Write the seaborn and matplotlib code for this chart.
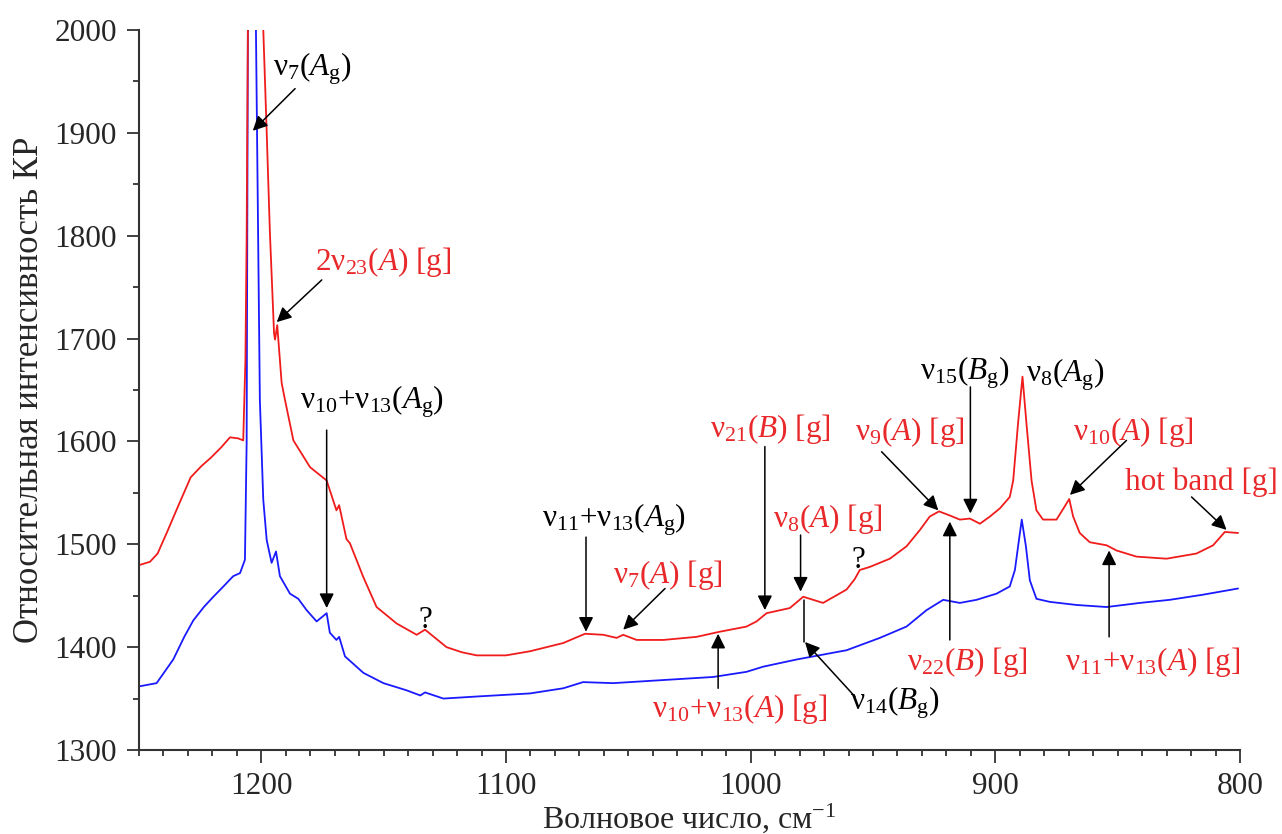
import matplotlib
matplotlib.use("Agg")
import matplotlib.pyplot as plt
import seaborn as sns
import pandas as pd
from matplotlib.ticker import MultipleLocator

# ---- data (wavenumber, cm^-1 ; intensity) ----
red_x = [1249.6, 1245.5, 1242.4, 1238.5, 1234.2, 1228.9, 1224.5, 1220.7, 1216.5, 1212.8,
         1209.5, 1207.4, 1206.5, 1206.0, 1205.5,
         1203.0, 1199.2, 1197.8, 1196.5, 1194.8, 1194.4, 1193.5, 1191.7, 1190.3, 1186.9,
         1180.1, 1173.3, 1169.3, 1168.2, 1165.2, 1163.8, 1158.3, 1152.9, 1144.7, 1136.5,
         1133.1, 1124.3, 1118.0, 1112.0, 1100.0, 1090.2, 1076.6, 1067.7, 1060.2, 1054.8,
         1052.1, 1046.6,
         1035.7, 1022.1, 1012.6, 1001.7, 997.6, 993.5, 984.0, 978.5, 970.4, 960.8,
         957.5, 955.4, 951.3, 943.1, 936.3, 930.8, 926.8, 923.0, 918.6, 914.5,
         910.4, 906.3, 902.2, 898.1, 894.1, 892.7, 890.7, 888.9, 887.3, 885.2,
         883.2, 880.5, 875.0, 871.6, 869.8, 868.2, 865.5, 861.4, 854.5, 850.5,
         842.3, 830.0, 817.8, 811.0, 806.2, 800.8]
red_y = [1480, 1483, 1491, 1512, 1536, 1565, 1576, 1584, 1594, 1604,
         1603, 1601, 1680, 1800, 2000,
         2500, 2000, 1900, 1803, 1705, 1699, 1713, 1657, 1640, 1601,
         1575, 1562, 1533, 1538, 1505, 1501, 1468, 1439, 1423, 1412,
         1417, 1400, 1395, 1392, 1392, 1396, 1404, 1413, 1412, 1409,
         1412, 1407,
         1407, 1410, 1415, 1420, 1425, 1433, 1438, 1449, 1443, 1456,
         1466, 1475, 1478, 1486, 1498, 1514, 1527, 1532, 1528, 1524,
         1525, 1520, 1527, 1535, 1546, 1562, 1618, 1663, 1618, 1562,
         1533, 1524, 1524, 1537, 1544, 1527, 1511, 1502, 1499, 1494,
         1488, 1486, 1491, 1499, 1512, 1511]

blue_x = [1249.6, 1242.8, 1236.0, 1231.5, 1227.8, 1223.5, 1219.6, 1215.5, 1211.5, 1208.7,
          1206.7, 1206.0, 1205.5,
          1204.0, 1202.2, 1200.6, 1199.2, 1197.8, 1195.8, 1194.0, 1192.4, 1188.3, 1184.9,
          1181.5, 1177.4, 1173.3, 1172.0, 1169.3, 1168.2, 1165.8, 1158.3, 1150.1, 1140.6,
          1135.0, 1133.1, 1125.6, 1112.0, 1090.2, 1076.6, 1068.5, 1056.2, 1035.8, 1015.3,
          1001.7, 994.9, 981.2, 974.4, 960.8, 947.2, 936.3, 928.1, 921.3, 914.5,
          907.7, 899.5, 894.1, 892.0, 890.7, 889.2, 887.5, 885.9, 883.2, 877.7,
          866.8, 854.5, 840.9, 828.7, 815.1, 800.8]
blue_y = [1362, 1365, 1388, 1410, 1426, 1439, 1449, 1459, 1469, 1472,
          1485, 1600, 2000,
          3000, 2000, 1640, 1543, 1504, 1482, 1493, 1469, 1452, 1447,
          1436, 1425, 1433, 1414, 1407, 1410, 1391, 1375, 1365, 1358,
          1353, 1356, 1350, 1352, 1355, 1360, 1366, 1365, 1368, 1371,
          1376, 1381, 1388, 1391, 1397, 1409, 1420, 1436, 1446, 1443,
          1446, 1452, 1459, 1475, 1498, 1524, 1498, 1465, 1447, 1444,
          1441, 1439, 1443, 1446, 1451, 1457]

x_ticks = [1200, 1100, 1000, 900, 800]
y_ticks = [1300, 1400, 1500, 1600, 1700, 1800, 1900, 2000]

RED = "#f01c1c"
BLUE = "#1a1aff"
TRED = "#e8282a"

sns.set_theme(style="ticks")
plt.rcParams["font.family"] = ["Liberation Serif", "DejaVu Serif"]
plt.rcParams["mathtext.fontset"] = "custom"
plt.rcParams["mathtext.rm"] = "Liberation Serif"
plt.rcParams["mathtext.it"] = "Liberation Serif:italic"
plt.rcParams["mathtext.bf"] = "Liberation Serif:bold"

fig = plt.figure(figsize=(12.82, 8.34), dpi=100)
ax = fig.add_axes([139 / 1282, 84 / 834, 1101 / 1282, 720 / 834])

df = pd.concat([
    pd.DataFrame({"x": blue_x, "y": blue_y, "s": "blue"}),
    pd.DataFrame({"x": red_x, "y": red_y, "s": "red"}),
])
sns.lineplot(data=df, x="x", y="y", hue="s", palette={"red": RED, "blue": BLUE},
             estimator=None, sort=False, legend=False, lw=1.3, ax=ax)

ax.set_xlim(1250, 800)
ax.set_ylim(1300, 2000)
ax.set_xticks(x_ticks)
ax.set_yticks(y_ticks)
ax.xaxis.set_minor_locator(MultipleLocator(10))
ax.yaxis.set_minor_locator(MultipleLocator(50))
ax.tick_params(which="major", direction="out", length=9, width=1.3, labelsize=22.5,
               color="#333333", pad=7)
ax.tick_params(which="minor", direction="out", length=4.5, width=1.3, color="#333333")
for s in ["top", "right"]:
    ax.spines[s].set_visible(False)
for s in ["left", "bottom"]:
    ax.spines[s].set_linewidth(1.5)
    ax.spines[s].set_color("#333333")

ax.set_xlabel(r"Волновое число, см$^{-1}$", fontsize=23, labelpad=0)
ax.set_ylabel("Относительная интенсивность КР", fontsize=25, labelpad=6)

FS = 22.5
ap = dict(arrowstyle="-|>", color="black", lw=1.1, mutation_scale=22,
          shrinkA=0, shrinkB=0)

def label(x, y, s, color="black", ha="left"):
    ax.text(x, y, s, color=color, fontsize=FS, ha=ha, va="baseline")

def arrow(x0, y0, x1, y1):
    ax.annotate("", xy=(x1, y1), xytext=(x0, y0), arrowprops=ap)

N = r"\mathrm{\nu}"

label(1195.1, 1956, rf"${N}_{{7}}(A_{{\mathrm{{g}}}})$")
arrow(1186.2, 1943, 1203.5, 1902)

label(1178.1, 1767, rf"$2{N}_{{23}}(A)$ [g]", TRED)
arrow(1175.3, 1757, 1193.7, 1716)

label(1184.2, 1632, rf"${N}_{{10}}$+${N}_{{13}}(A_{{\mathrm{{g}}}})$")
arrow(1173.3, 1611, 1173.3, 1438)

label(1132.8, 1419, "?", ha="center")

label(1085.4, 1517, rf"${N}_{{11}}$+${N}_{{13}}(A_{{\mathrm{{g}}}})$")
arrow(1067.3, 1507, 1067.3, 1415)

label(1056.2, 1462, rf"${N}_{{7}}(A)$ [g]", TRED)
arrow(1035.0, 1457, 1052.1, 1417)

label(1016.6, 1604, rf"${N}_{{21}}(B)$ [g]", TRED)
arrow(994.2, 1595, 994.2, 1436)

label(990.8, 1517, rf"${N}_{{8}}(A)$ [g]", TRED)
arrow(979.6, 1509, 979.6, 1454)

label(956.0, 1477, "?", ha="center")

label(1040.5, 1332, rf"${N}_{{10}}$+${N}_{{13}}(A)$ [g]", TRED)
arrow(1013.3, 1360, 1013.3, 1413)

label(959.4, 1339, rf"${N}_{{14}}(B_{{\mathrm{{g}}}})$")
arrow(957.4, 1352, 977.8, 1405)
ax.plot([978.2, 978.2], [1405, 1446], color="black", lw=1.1)

label(957.4, 1601, rf"${N}_{{9}}(A)$ [g]", TRED)
arrow(946.5, 1590, 923.3, 1533)

label(930.8, 1660, rf"${N}_{{15}}(B_{{\mathrm{{g}}}})$")
arrow(910.2, 1653, 910.2, 1530)

label(887.3, 1658, rf"${N}_{{8}}(A_{{\mathrm{{g}}}})$")

label(868.2, 1601, rf"${N}_{{10}}(A)$ [g]", TRED)
arrow(846.4, 1601, 869.5, 1548)

label(847.0, 1553, "hot band [g]", TRED)
arrow(819.8, 1546, 805.5, 1514)

label(936.3, 1378, rf"${N}_{{22}}(B)$ [g]", TRED)
arrow(918.6, 1407, 918.6, 1522)

label(871.6, 1378, rf"${N}_{{11}}$+${N}_{{13}}(A)$ [g]", TRED)
arrow(853.5, 1410, 853.5, 1494)

fig.savefig("out.png", dpi=100)
